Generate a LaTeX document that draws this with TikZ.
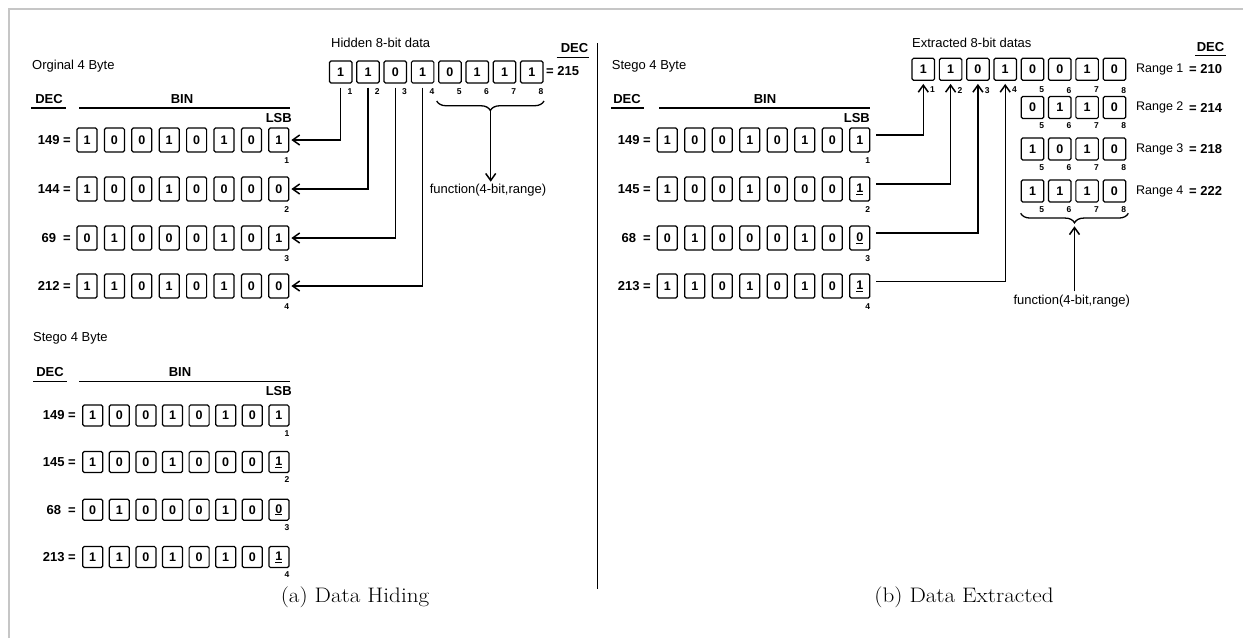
\documentclass[tikz,border=0pt]{standalone}
\usepackage{fontspec}
\usepackage{graphicx}
\usepackage{tikz}
\usetikzlibrary{arrows.meta,decorations.pathreplacing}
\newfontfamily\diagfont{Liberation Sans}

\tikzset{
  bitbox/.style={draw, line width=1.2pt, rounded corners=1.5pt, minimum width=20pt, minimum height=24pt, inner sep=0pt, font=\diagfont\bfseries\fontsize{12.5}{12.5}\selectfont},
  lowbox/.style={bitbox, minimum height=21pt},
  databox/.style={bitbox, minimum width=22.5pt, minimum height=22pt},
  idx/.style={font=\diagfont\bfseries\fontsize{8.5}{8.5}\selectfont, inner sep=0pt},
  lbl/.style={font=\diagfont\fontsize{13}{13}\selectfont, inner sep=0pt},
  rangetext/.style={font=\diagfont\fontsize{12.5}{12.5}\selectfont, inner sep=0pt},
  numtext/.style={font=\diagfont\bfseries\fontsize{13}{13}\selectfont, inner sep=0pt},
  barline/.style={line width=1.2pt},
  conn/.style={line width=1.3pt, -{Straight Barb[length=7pt,width=10pt,line width=1.5pt]}},
  curly/.style={line width=1.3pt, decorate, decoration={brace, amplitude=9.5pt}},
  captext/.style={font=\fontsize{21}{21}\selectfont, inner sep=0pt},
}

\begin{document}
\begin{tikzpicture}[x=1pt, y=-1pt]
    \useasboundingbox (0,0) rectangle (1243,638);
    \draw[gray!45, line width=1.2pt] (9,638) -- (9,9) -- (1243,9);

    % (a) original bytes
    \node[lbl, anchor=west] (orig) at (32,66) {Orginal 4 Byte};
    \node[numtext] (deca) at (49,99) {DEC};
    \node[numtext] (bina) at (182,99) {BIN};
    \draw[barline] (31,108) -- (66,108);
    \draw[barline] (79,108) -- (290,108);
    \node[numtext, anchor=east] (lsba) at (292,118) {LSB};

    \node[numtext, anchor=east] (oa1) at (71,140) {149 =};
    \node[numtext, anchor=east] (oa2) at (71,189) {144 =};
    \node[numtext, anchor=east] (oa3) at (71,238) {69\ \ =};
    \node[numtext, anchor=east] (oa4) at (71,286) {212 =};
    \foreach \b [count=\i] in {1,0,0,1,0,1,0,1} \node[bitbox] (o1b\i) at ({87+27.4*(\i-1)},140) {\b};
    \foreach \b [count=\i] in {1,0,0,1,0,0,0,0} \node[bitbox] (o2b\i) at ({87+27.4*(\i-1)},189) {\b};
    \foreach \b [count=\i] in {0,1,0,0,0,1,0,1} \node[bitbox] (o3b\i) at ({87+27.4*(\i-1)},238) {\b};
    \foreach \b [count=\i] in {1,1,0,1,0,1,0,0} \node[bitbox] (o4b\i) at ({87+27.4*(\i-1)},286) {\b};
    \foreach \r in {1,...,4} \node[idx, anchor=north east] (oi\r) at ([yshift=-5pt]o\r b8.south east) {\r};

    % hidden data
    \node[lbl, anchor=west] (hid) at (331,43) {Hidden 8-bit data};
    \foreach \b [count=\i] in {1,1,0,1,0,1,1,1} \node[databox] (h\i) at ({340.7+27.3*(\i-1)},72) {\b};
    \foreach \i in {1,...,8} \node[idx, anchor=north east] (hi\i) at ([yshift=-4.5pt]h\i.south east) {\i};
    \node[numtext, anchor=west] (hval) at (546,71) {= 215};
    \node[numtext] (dech) at (574.5,47.7) {DEC};
    \draw[barline] (556.7,57.3) -- (589,57.3);

    \draw[conn, shorten <=4pt, shorten >=2pt] (h1) |- (o1b8);
    \draw[conn, shorten <=4pt, shorten >=2pt] (h2) |- (o2b8);
    \draw[conn, shorten <=4pt, shorten >=2pt] (h3) |- (o3b8);
    \draw[conn, shorten <=4pt, shorten >=2pt] (h4) |- (o4b8);

    \draw[curly] (544,101) -- (436.7,101);
    \coordinate (tipa) at (490.7,111);
    \node[lbl] (funca) at (488,190) {function(4-bit,range)};
    \draw[conn, shorten >=2pt] (tipa) -- (tipa |- funca.north);

    % (a) stego bytes
    \node[lbl, anchor=west] (stega) at (33,338) {Stego 4 Byte};
    \node[numtext] (decs) at (50,371.7) {DEC};
    \node[numtext] (bins) at (180,371.7) {BIN};
    \draw[barline] (33,381.7) -- (67,381.7);
    \draw[barline] (79,381.7) -- (290,381.7);
    \node[numtext, anchor=east] (lsbs) at (292,390.7) {LSB};

    \node[numtext, anchor=east] (sa1) at (76,415.5) {149 =};
    \node[numtext, anchor=east] (sa2) at (76,462) {145 =};
    \node[numtext, anchor=east] (sa3) at (76,509.7) {68\ \ =};
    \node[numtext, anchor=east] (sa4) at (76,557) {213 =};
    \foreach \b [count=\i] in {1,0,0,1,0,1,0,1} \node[lowbox] (s1b\i) at ({92.7+26.6*(\i-1)},415.5) {\b};
    \foreach \b [count=\i] in {1,0,0,1,0,0,0,\underline{1}} \node[lowbox] (s2b\i) at ({92.7+26.6*(\i-1)},462) {\b};
    \foreach \b [count=\i] in {0,1,0,0,0,1,0,\underline{0}} \node[lowbox] (s3b\i) at ({92.7+26.6*(\i-1)},509.7) {\b};
    \foreach \b [count=\i] in {1,1,0,1,0,1,0,\underline{1}} \node[lowbox] (s4b\i) at ({92.7+26.6*(\i-1)},557) {\b};
    \foreach \r in {1,...,4} \node[idx, anchor=north east] (si\r) at ([yshift=-3.7pt]s\r b8.south east) {\r};

    \draw[line width=1.3pt] (597.7,43) -- (597.7,589);

    % (b) stego bytes
    \node[lbl, anchor=west] (stegb) at (611.7,66) {Stego 4 Byte};
    \node[numtext] (decb) at (627,99) {DEC};
    \node[numtext] (binb) at (765,99) {BIN};
    \draw[barline] (611,108) -- (644,108);
    \draw[barline] (659,108) -- (870,108);
    \node[numtext, anchor=east] (lsbb) at (870,118) {LSB};

    \node[numtext, anchor=east] (tb1) at (651,140) {149 =};
    \node[numtext, anchor=east] (tb2) at (651,189) {145 =};
    \node[numtext, anchor=east] (tb3) at (651,238) {68\ \ =};
    \node[numtext, anchor=east] (tb4) at (651,286) {213 =};
    \foreach \b [count=\i] in {1,0,0,1,0,1,0,1} \node[bitbox] (t1b\i) at ({667.3+27.5*(\i-1)},140) {\b};
    \foreach \b [count=\i] in {1,0,0,1,0,0,0,\underline{1}} \node[bitbox] (t2b\i) at ({667.3+27.5*(\i-1)},189) {\b};
    \foreach \b [count=\i] in {0,1,0,0,0,1,0,\underline{0}} \node[bitbox] (t3b\i) at ({667.3+27.5*(\i-1)},238) {\b};
    \foreach \b [count=\i] in {1,1,0,1,0,1,0,\underline{1}} \node[bitbox] (t4b\i) at ({667.3+27.5*(\i-1)},286) {\b};
    \foreach \r in {1,...,4} \node[idx, anchor=north east] (ti\r) at ([yshift=-5pt]t\r b8.south east) {\r};

    % extracted data
    \node[lbl, anchor=west] (ext) at (912,43) {Extracted 8-bit datas};
    \node[numtext] (decx) at (1210.5,47) {DEC};
    \draw[barline] (1195,55.3) -- (1226,55.3);
    \foreach \b [count=\i] in {1,1,0,1,0,0,1,0} \node[databox] (x\i) at ({923.3+27.3*(\i-1)},69.3) {\b};
    \foreach \i in {1,...,8} \node[idx, anchor=north east] (xi\i) at ([yshift=-6pt]x\i.south east) {\i};
    \foreach \b [count=\i from 5] in {0,1,1,0} \node[databox] (r2b\i) at ({923.3+27.3*(\i-1)},107.5) {\b};
    \foreach \b [count=\i from 5] in {1,0,1,0} \node[databox] (r3b\i) at ({923.3+27.3*(\i-1)},149) {\b};
    \foreach \b [count=\i from 5] in {1,1,1,0} \node[databox] (r4b\i) at ({923.3+27.3*(\i-1)},191) {\b};
    \foreach \r in {2,3,4} {
        \foreach \i in {5,...,8} \node[idx, anchor=north east] (ri\r\i) at ([yshift=-3.7pt]r\r b\i.south east) {\i};
    }
    \node[rangetext, anchor=west] (rg1) at (1136,69.3) {Range 1};
    \node[rangetext, anchor=west] (rg2) at (1136,107.5) {Range 2};
    \node[rangetext, anchor=west] (rg3) at (1136,149) {Range 3};
    \node[rangetext, anchor=west] (rg4) at (1136,191) {Range 4};
    \node[numtext, anchor=west] (rv1) at (1189,69.3) {= 210};
    \node[numtext, anchor=west] (rv2) at (1189,107.5) {= 214};
    \node[numtext, anchor=west] (rv3) at (1189,149) {= 218};
    \node[numtext, anchor=west] (rv4) at (1189,191) {= 222};

    \draw[conn, shorten <=6pt, shorten >=3pt] ([yshift=5pt]t1b8.east) -| (x1);
    \draw[conn, shorten <=6pt, shorten >=3pt] ([yshift=5pt]t2b8.east) -| (x2);
    \draw[conn, shorten <=6pt, shorten >=3pt] ([yshift=5pt]t3b8.east) -| (x3);
    \draw[conn, shorten <=6pt, shorten >=3pt] ([yshift=4.3pt]t4b8.east) -| (x4);

    \draw[curly] (1128.3,213.3) -- (1020.7,213.3);
    \coordinate (tipb) at (1074.5,223.3);
    \node[lbl] (funcb) at (1071.7,300.7) {function(4-bit,range)};
    \draw[conn, shorten <=3pt, shorten >=3pt] (tipb |- funcb.north) -- (tipb);

    % captions
    \node[captext] (capa) at (355,597) {\scalebox{1.1}[1]{(a) Data Hiding}};
    \node[captext] (capb) at (964,597) {\scalebox{1.1}[1]{(b) Data Extracted}};
\end{tikzpicture}
\end{document}
